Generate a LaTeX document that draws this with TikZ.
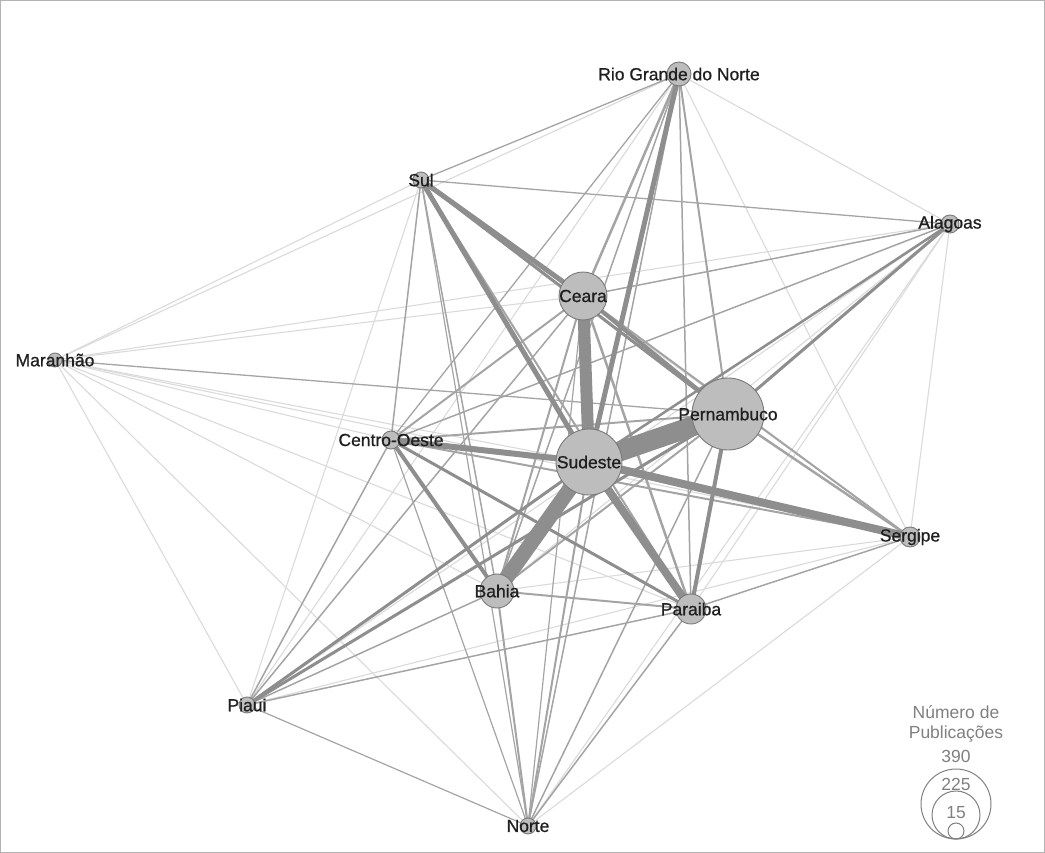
\documentclass[tikz,border=0pt]{standalone}
\usepackage{fontspec}
\setmainfont{Liberation Sans}
\newfontfamily\labelfont[FakeBold=0.8]{Liberation Sans}
\usetikzlibrary{backgrounds}
\definecolor{nodefill}{HTML}{BDBDBD}
\definecolor{nodeline}{HTML}{7A7A7A}
\definecolor{edgelight}{HTML}{DADADA}
\definecolor{edgemid}{HTML}{A4A4A4}
\definecolor{edgedark}{HTML}{8E8E8E}
\definecolor{legendgray}{HTML}{808080}
\tikzset{
  vert/.style={circle, draw=nodeline, fill=nodefill, line width=0.9pt, inner sep=0pt,
    minimum size=#1},
  vlabel/.style={text=black!88, font=\labelfont\fontsize{17.5}{20}\selectfont, inner sep=0pt},
  lt/.style={draw=edgelight, line width=1.1pt},
  md/.style={draw=edgemid, line width=#1},
  hv/.style={draw=edgedark, line width=#1},
  legtext/.style={text=legendgray, font=\fontsize{17.5}{20}\selectfont, inner sep=0pt},
  legcirc/.style={draw=legendgray, line width=1pt, fill=none}
}
\begin{document}
\begin{tikzpicture}[x=1pt,y=-1pt]
\useasboundingbox (0,0) rectangle (1045,853);
\draw[black!30, line width=1pt] (0.5,0.5) rectangle (1044.5,852.5);

% nodes
\node[vert=24pt, label={[vlabel]center:Rio Grande do Norte}] (RN) at (679,74) {};
\node[vert=16pt, label={[vlabel]center:Sul}] (Sul) at (421,180) {};
\node[vert=18pt, label={[vlabel]center:Alagoas}] (Al) at (950,224) {};
\node[vert=48pt, label={[vlabel]center:Ceara}] (Ce) at (583,296) {};
\node[vert=14pt, label={[vlabel]center:Maranhão}] (Ma) at (55,360) {};
\node[vert=72pt, label={[vlabel]center:Pernambuco}] (Pe) at (728,414) {};
\node[vert=18pt, label={[vlabel]center:Centro-Oeste}] (CO) at (391,440) {};
\node[vert=66pt, label={[vlabel]center:Sudeste}] (Su) at (589,462) {};
\node[vert=20pt, label={[vlabel]center:Sergipe}] (Se) at (910,537) {};
\node[vert=34pt, label={[vlabel]center:Bahia}] (Ba) at (497,591) {};
\node[vert=30pt, label={[vlabel]center:Paraiba}] (Pa) at (691,609) {};
\node[vert=16pt, label={[vlabel]center:Piaui}] (Pi) at (247,705) {};
\node[vert=16pt, label={[vlabel]center:Norte}] (No) at (528,826) {};

\begin{pgfonlayer}{background}
% light edges
\foreach \a/\b in {RN/Al,RN/Se,RN/Ma,RN/Pi,Sul/Ma,Sul/Pi,Sul/Se,Al/Ba,Al/Se,Al/Ma,Al/Pi,Al/No,
  Ce/Ma,Ma/Su,Ma/CO,Ma/Se,Ma/Ba,Ma/Pa,Ma/Pi,Ma/No,Se/Ba,Se/Pi,Se/No,Al/Pa}
  \draw[lt] (\a.center) -- (\b.center);
% medium edges
\foreach \a/\b/\w in {RN/Sul/1.3,RN/Ce/2.5,RN/Pe/2,RN/CO/1.3,RN/Ba/1.5,RN/Pa/1.5,RN/No/1.5,
  Sul/Al/1.3,Sul/Pa/2,Sul/Ba/1.5,Sul/CO/1.5,Sul/No/1.2,
  Al/Ce/1.5,Al/CO/1.5,
  Ce/CO/2,Ce/Ba/2,Ce/Pa/2.5,Ce/Se/2,Ce/Pi/1.5,Ce/No/1.2,
  Ma/Pe/1.3,
  CO/Pe/2,CO/Se/2,CO/Pi/1.5,CO/No/1.2,
  Pe/Se/2.5,Pe/Ba/2,Pe/No/1.5,
  Su/No/2,Se/Pa/1.5,
  Ba/Pa/2,Ba/Pi/1.5,Ba/No/2,Pa/Pi/1.5,Pa/No/1.5,Pi/No/1.2}
  \draw[md=\w pt] (\a.center) -- (\b.center);
% heavy edges
\foreach \a/\b/\w in {RN/Su/5,Sul/Ce/5,Sul/Su/5,Sul/Pe/3,Al/Pe/3,Al/Su/2.5,
  Ce/Su/12,Ce/Pe/4,CO/Su/6,CO/Ba/4,CO/Pa/3,
  Pe/Su/20,Pe/Pa/4,Pe/Pi/3,Su/Ba/15,Su/Pa/8,Su/Se/8,Su/Pi/3}
  \draw[hv=\w pt] (\a.center) -- (\b.center);
\end{pgfonlayer}

% legend
\node[legtext] (lt1) at (956,712) {Número de};
\node[legtext] (lt2) at (956,734) {Publicações};
\node[legtext] (l390) at (956,756) {390};
\node[circle, legcirc, minimum size=70pt, inner sep=0pt] (c390) at (956,804) {};
\node[circle, legcirc, minimum size=48pt, inner sep=0pt] (c225) at (956,815) {};
\node[circle, legcirc, minimum size=16pt, inner sep=0pt] (c15) at (956,831) {};
\node[legtext] (l225) at (956,784) {225};
\node[legtext] (l15) at (956,813) {15};
\end{tikzpicture}
\end{document}
